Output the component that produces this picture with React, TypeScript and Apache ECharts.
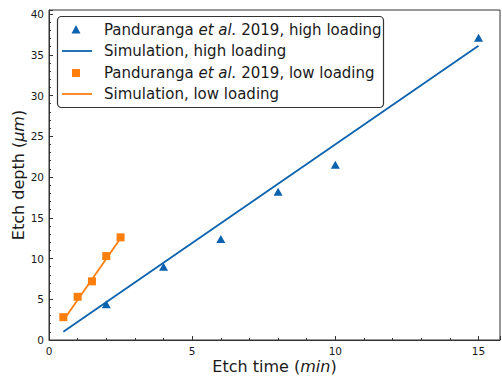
import React, { useEffect, useRef } from "react";
import * as echarts from "echarts";

// Etch depth measurements and simulation fits
const highTime = [2, 4, 6, 8, 10, 15];
const highDepth = [4.4, 9.0, 12.4, 18.2, 21.5, 37.1];
const highSimTime = [0.5, 15];
const highSimDepth = [1.0, 36.1];

const lowTime = [0.5, 1, 1.5, 2, 2.5];
const lowDepth = [2.8, 5.3, 7.2, 10.3, 12.6];
const lowSimTime = [0.5, 2.5];
const lowSimDepth = [2.4, 12.5];

const xTicks = [0, 5, 10, 15];
const yTicks = [0, 5, 10, 15, 20, 25, 30, 35, 40];

const seriesNames = [
  "Panduranga et al. 2019, high loading",
  "Simulation, high loading",
  "Panduranga et al. 2019, low loading",
  "Simulation, low loading",
];

const BLUE = "#0b62ae";
const ORANGE = "#ff7f0e";
const FONT = "DejaVu Sans";
const AXIS = "#333333";
const TEXT = "#1a1a1a";

const pairs = (xs: number[], ys: number[]) => xs.map((x, i) => [x, ys[i]]);

// Hand-built legend box: marker / line keys with rich text labels
function legendGraphics() {
  const boxX = 57;
  const boxY = 16;
  const rowY = [30, 51, 73, 94];
  const keyX = 76;
  const textX = 104;
  const kinds = ["triangle", "line", "square", "line"];
  const colors = [BLUE, BLUE, ORANGE, ORANGE];
  const children: any[] = [
    {
      type: "rect",
      shape: { x: boxX + 0.5, y: boxY + 0.5, width: 326, height: 91, r: 4 },
      style: { fill: "#ffffff", stroke: "#333333", lineWidth: 1.2 },
    },
  ];
  seriesNames.forEach((name, i) => {
    const y = rowY[i];
    const c = colors[i];
    if (kinds[i] === "triangle") {
      children.push({
        type: "polygon",
        shape: { points: [[keyX, y - 5], [keyX - 4.5, y + 3.5], [keyX + 4.5, y + 3.5]] },
        style: { fill: c },
      });
    } else if (kinds[i] === "square") {
      children.push({
        type: "rect",
        shape: { x: keyX - 4, y: y - 4, width: 8, height: 8 },
        style: { fill: c },
      });
    } else {
      children.push({
        type: "line",
        shape: { x1: 62, y1: y, x2: 92, y2: y },
        style: { stroke: c, lineWidth: 1.8 },
      });
    }
    children.push({
      type: "text",
      x: textX,
      y,
      style: {
        text: name.includes("et al.") ? name.replace("et al.", "{i|et al.}") : name,
        fontFamily: FONT,
        fontSize: 15,
        fill: TEXT,
        verticalAlign: "middle",
        align: "left",
        rich: {
          i: { fontFamily: FONT, fontSize: 15, fontStyle: "italic", fill: TEXT },
        },
      },
    });
  });
  return [{ type: "group", z: 100, children }];
}

export default function App() {
  const ref = useRef<HTMLDivElement>(null);

  useEffect(() => {
    if (!ref.current) return;
    const chart = echarts.init(ref.current, undefined, { renderer: "svg" });
    const tickFmt = (ticks: number[]) => (v: number) =>
      ticks.includes(v) ? String(v) : "";

    const nameStyle = {
      fontFamily: FONT,
      fontSize: 16,
      lineHeight: 16,
      color: TEXT,
      rich: {
        i: { fontFamily: FONT, fontSize: 16, lineHeight: 16, fontStyle: "italic", color: TEXT },
      },
    };
    const labelStyle = { fontFamily: FONT, fontSize: 10.5, lineHeight: 10, color: TEXT, margin: 5 };

    chart.setOption({
      animation: false,
      backgroundColor: "#ffffff",
      grid: {
        left: 49,
        right: 2,
        top: 10,
        bottom: 36,
        outerBoundsMode: "none",
        containLabel: false,
        show: true,
        borderColor: AXIS,
        borderWidth: 1,
        backgroundColor: "transparent",
      },
      graphic: legendGraphics(),
      xAxis: {
        type: "value",
        min: 0,
        max: 15.75,
        interval: 5,
        name: "Etch time ({i|min})",
        nameLocation: "middle",
        nameGap: 18,
        nameMoveOverlap: false,
        nameTextStyle: nameStyle,
        axisLine: { show: true, lineStyle: { color: AXIS, width: 1 } },
        axisTick: { show: true, inside: true, length: 4, lineStyle: { color: AXIS } },
        minorTick: { show: true, splitNumber: 5, length: 2, lineStyle: { color: AXIS } },
        splitLine: { show: false },
        axisLabel: { ...labelStyle, margin: 6, formatter: tickFmt(xTicks) },
      },
      yAxis: {
        type: "value",
        min: 0,
        max: 40.5,
        interval: 5,
        name: "Etch depth ({i|μm})",
        nameLocation: "middle",
        nameGap: 23,
        nameMoveOverlap: false,
        nameTextStyle: nameStyle,
        axisLine: { show: true, lineStyle: { color: AXIS, width: 1 } },
        axisTick: { show: true, inside: true, length: 4, lineStyle: { color: AXIS } },
        minorTick: { show: true, splitNumber: 5, length: 2, lineStyle: { color: AXIS } },
        splitLine: { show: false },
        axisLabel: { ...labelStyle, showMaxLabel: false, formatter: tickFmt(yTicks) },
      },
      series: [
        {
          name: seriesNames[0],
          type: "scatter",
          symbol: "triangle",
          symbolSize: [9, 8],
          itemStyle: { color: BLUE, opacity: 1 },
          data: pairs(highTime, highDepth),
          z: 3,
        },
        {
          name: seriesNames[1],
          type: "line",
          showSymbol: false,
          symbol: "none",
          lineStyle: { color: BLUE, width: 1.8 },
          data: pairs(highSimTime, highSimDepth),
          z: 2,
        },
        {
          name: seriesNames[2],
          type: "scatter",
          symbol: "rect",
          symbolSize: 8,
          itemStyle: { color: ORANGE, opacity: 1 },
          data: pairs(lowTime, lowDepth),
          z: 3,
        },
        {
          name: seriesNames[3],
          type: "line",
          showSymbol: false,
          symbol: "none",
          lineStyle: { color: ORANGE, width: 1.8 },
          data: pairs(lowSimTime, lowSimDepth),
          z: 2,
        },
      ],
    });
    return () => chart.dispose();
  }, []);

  return (
    <div
      ref={ref}
      style={{ position: "fixed", left: 0, top: 0, width: 502, height: 376 }}
    />
  );
}
